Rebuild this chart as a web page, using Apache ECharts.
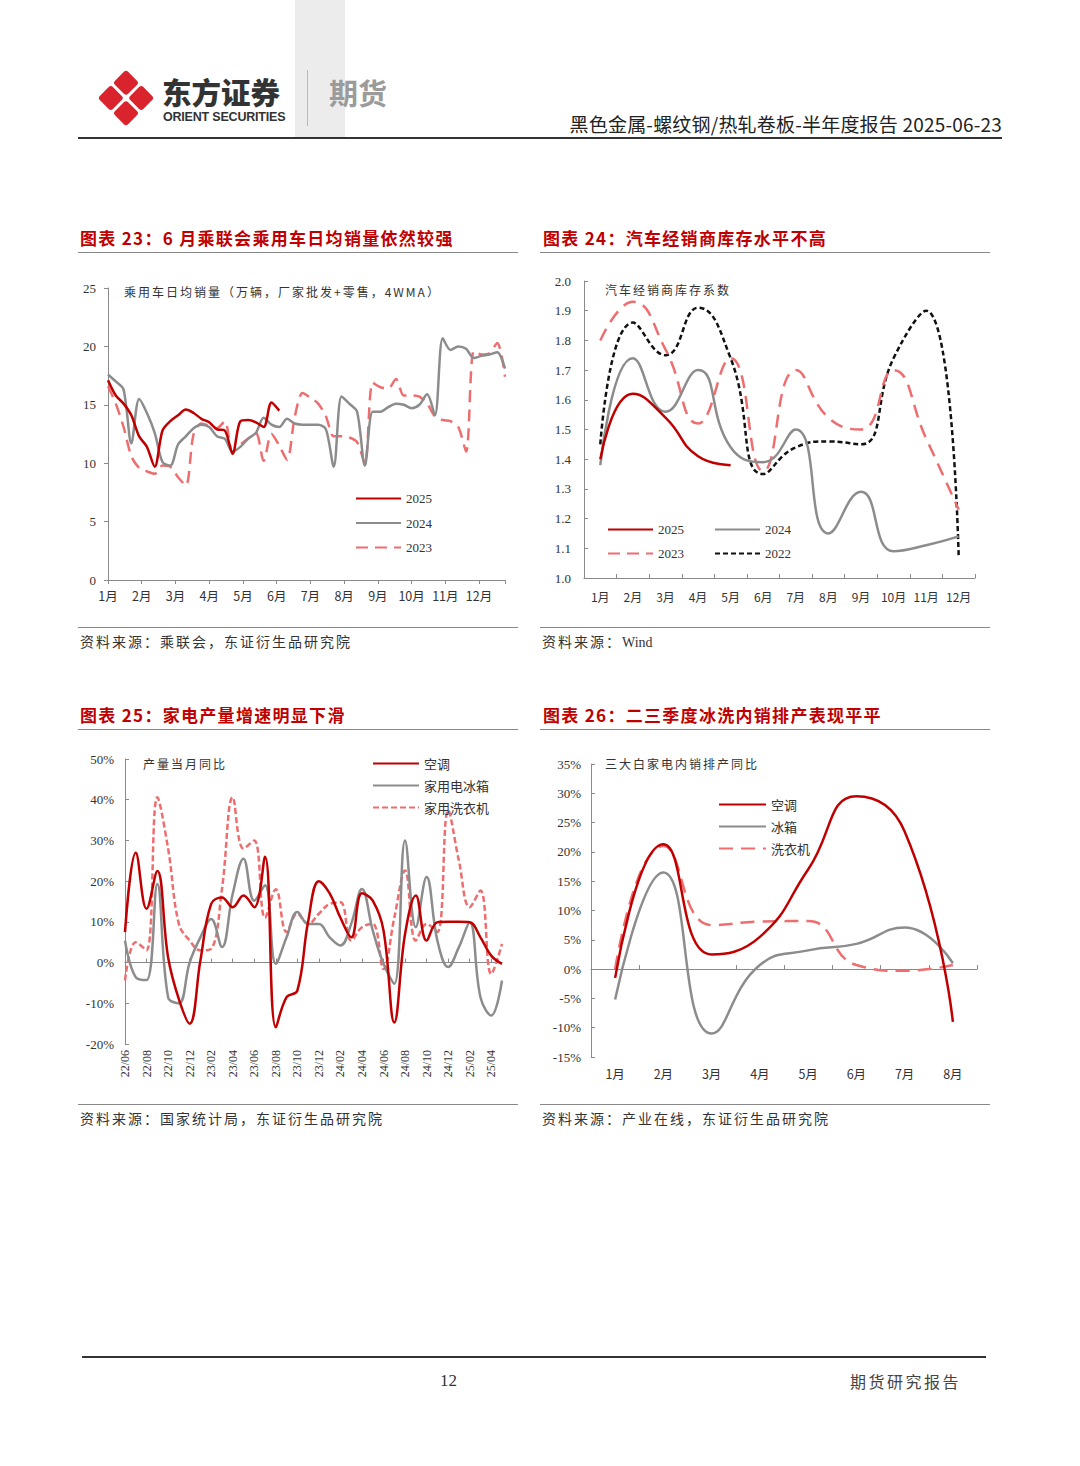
<!DOCTYPE html>
<html><head><meta charset="utf-8">
<script src="https://cdn.jsdelivr.net/npm/echarts@6/dist/echarts.min.js"></script>
<style>
html,body{margin:0;padding:0;background:#fff;}
#page{position:relative;width:1080px;height:1466px;overflow:hidden;background:#fff;font-family:"Noto Sans CJK SC","Noto Sans",sans-serif;}
#c{position:absolute;left:0;top:0;width:1080px;height:1466px;}
.t{position:absolute;white-space:nowrap;line-height:1;}
.ln{position:absolute;}
.ttl{font-size:17px;font-weight:700;color:#c00000;letter-spacing:1.3px;}
.src{font-size:14px;color:#333;letter-spacing:2px;}
.inner{font-size:12px;color:#333;letter-spacing:2px;}
</style></head><body><div id="page">
<div class="ln" style="left:295px;top:0;width:50px;height:137px;background:#ececec"></div>
<svg style="position:absolute;left:97px;top:68px" width="58" height="60" viewBox="0 0 58 60">
  <g transform="rotate(45 29 30)" fill="#d9232d">
    <rect x="9" y="10" width="18.5" height="18.5" rx="3"/>
    <rect x="30.5" y="10" width="18.5" height="18.5" rx="3"/>
    <rect x="9" y="31.5" width="18.5" height="18.5" rx="3"/>
    <rect x="30.5" y="31.5" width="18.5" height="18.5" rx="3"/>
  </g>
</svg>
<div class="t" style="left:162px;top:76px;font-size:29.5px;height:30px;line-height:30px;font-weight:900;color:#333;">东方证券</div>
<div class="t" style="left:163px;top:111px;font-size:12.5px;height:12px;line-height:12px;font-weight:700;color:#333;font-family:'Liberation Sans',Arial,sans-serif;letter-spacing:-0.2px;">ORIENT SECURITIES</div>
<div class="ln" style="left:307px;top:70px;width:1px;height:56px;background:#c9b99c"></div>
<div class="t" style="left:329px;top:78px;font-size:29px;font-weight:700;color:#9b9b9b;">期货</div>
<div class="t" style="right:78px;top:114px;font-size:19px;color:#222;letter-spacing:0.2px;">黑色金属-螺纹钢/热轧卷板-半年度报告 2025-06-23</div>
<div class="ln" style="left:78px;top:137px;width:924px;height:1.5px;background:#333"></div>

<div class="t ttl" style="left:80px;top:229px;">图表 23：6 月乘联会乘用车日均销量依然较强</div>
<div class="t ttl" style="left:543px;top:229px;">图表 24：汽车经销商库存水平不高</div>
<div class="ln" style="left:78px;top:252px;width:440px;height:1px;background:#888"></div>
<div class="ln" style="left:540px;top:252px;width:450px;height:1px;background:#888"></div>
<div class="ln" style="left:78px;top:627px;width:440px;height:1px;background:#888"></div>
<div class="ln" style="left:540px;top:627px;width:450px;height:1px;background:#888"></div>
<div class="t src" style="left:80px;top:634px;">资料来源：乘联会，东证衍生品研究院</div>
<div class="t src" style="left:542px;top:634px;">资料来源：<span style="font-family:'Liberation Serif',serif;letter-spacing:0">Wind</span></div>

<div class="t ttl" style="left:80px;top:706px;">图表 25：家电产量增速明显下滑</div>
<div class="t ttl" style="left:543px;top:706px;">图表 26：二三季度冰洗内销排产表现平平</div>
<div class="ln" style="left:78px;top:729px;width:440px;height:1px;background:#888"></div>
<div class="ln" style="left:540px;top:729px;width:450px;height:1px;background:#888"></div>
<div class="ln" style="left:78px;top:1104px;width:440px;height:1px;background:#888"></div>
<div class="ln" style="left:540px;top:1104px;width:450px;height:1px;background:#888"></div>
<div class="t src" style="left:80px;top:1111px;">资料来源：国家统计局，东证衍生品研究院</div>
<div class="t src" style="left:542px;top:1111px;">资料来源：产业在线，东证衍生品研究院</div>

<div class="ln" style="left:82px;top:1356px;width:904px;height:1.5px;background:#333"></div>
<div class="t" style="left:440px;top:1372px;font-size:17px;color:#333;font-family:'Liberation Serif',serif;">12</div>
<div class="t" style="left:850px;top:1373px;font-size:16px;color:#444;letter-spacing:2.5px;">期货研究报告</div>

<div id="c"></div>

<div class="t inner" style="left:124px;top:286px;letter-spacing:2px;">乘用车日均销量（万辆，厂家批发+零售，4WMA）</div>
<div class="t inner" style="left:605px;top:284px;">汽车经销商库存系数</div>
<div class="t inner" style="left:143px;top:758px;">产量当月同比</div>
<div class="t inner" style="left:605px;top:758px;">三大白家电内销排产同比</div>
</div>
<script>
// ---------- data ----------
const monthLabels12 = ['1月','2月','3月','4月','5月','6月','7月','8月','9月','10月','11月','12月'];
// 图表23: weekly 4WMA daily sales (万辆), week index from start of year
const sales2025 = [17.1,15.8,15.1,14.1,12.3,11.4,9.7,12.8,13.6,14.1,14.6,14.3,13.8,13.5,12.9,12.8,10.8,13.6,13.7,13.5,13.1,15.2,14.5];
const sales2024 = [17.6,17.0,16.3,11.7,15.5,14.3,12.6,10.1,9.8,11.6,12.3,13.0,13.3,13.1,12.3,12.1,11.0,11.4,12.1,12.6,13.9,13.3,13.1,13.8,13.4,13.3,13.3,13.3,12.9,9.7,15.7,15.1,14.4,9.8,14.4,14.4,14.8,15.1,15.0,14.7,15.0,15.9,14.1,20.7,19.7,20.0,19.8,19.0,19.2,19.3,19.5,18.1];
const sales2023 = [16.6,15.1,13.1,10.6,9.6,9.3,9.1,9.8,9.7,8.8,8.1,12.5,13.4,13.2,13.0,13.6,11.0,11.6,12.1,12.6,10.2,12.5,11.5,10.3,14.0,16.0,15.6,15.1,14.0,12.3,12.3,12.2,11.8,10.0,16.9,16.5,16.4,17.2,15.8,15.8,15.7,15.1,14.0,13.7,13.6,13.1,11.0,19.6,19.3,19.4,20.3,17.4];
// 图表24: dealer inventory coefficient
const inv2025 = [1.40,1.62,1.54,1.41,1.38];
const inv2024 = [1.38,1.74,1.56,1.70,1.44,1.39,1.50,1.15,1.29,1.09,1.11,1.14];
const inv2023 = [1.80,1.93,1.77,1.52,1.74,1.36,1.70,1.54,1.50,1.70,1.47,1.23];
const inv2022 = [1.45,1.86,1.75,1.91,1.74,1.35,1.44,1.46,1.45,1.74,1.90,1.07];
// 图表25: monthly production YoY (%)
const prodMonths = ['22/06','22/07','22/08','22/09','22/10','22/11','22/12','23/01','23/02','23/03','23/04','23/05','23/06','23/07','23/08','23/09','23/10','23/11','23/12','24/01','24/02','24/03','24/04','24/05','24/06','24/07','24/08','24/09','24/10','24/11','24/12','25/01','25/02','25/03','25/04','25/05'];
const prodAC = [7.5,27,13.2,22.5,1.3,-9,-15,0.5,14.4,16,13.6,16.5,13.6,26,-15.9,-8.5,-6.9,10,20,17,11,6.2,17,15.2,7.9,-14.7,7,16.5,5.4,9.9,10,10,9.9,6.2,1.7,-0.3];
const prodFridge = [5.4,-3.6,-4.3,19.3,-8.5,-10,0,6.2,10.7,3.8,16.9,25.5,15.2,19,-0.3,6.2,12.4,9.5,9.5,6.2,4.2,9.5,18.1,7.9,-0.3,-5.2,30,8.7,21,5.4,-1.1,3.8,9.9,-8.5,-13,-4.4];
const prodWasher = [-4.4,5,3,40.6,28,9.5,5.4,3,3.4,18,40.6,28,30,11,18,7.5,12,9.5,12,14.4,14.8,5.4,8.7,9.5,-1.6,11,22.6,5.4,9.5,7.5,37.4,25,13.6,17.7,-2.8,4.6];
// 图表26: domestic production schedule YoY (%)
const schMonths = ['1月','2月','3月','4月','5月','6月','7月','8月'];
const schAC = [-1.5,21.3,2.5,5.5,17,29.5,23.5,-9];
const schFridge = [-5.2,16.5,-11,0.7,3.2,4.3,7.1,1];
const schWasher = [0,21,7.5,8.1,8.2,0.7,-0.3,0.7];

// ---------- styles ----------
const RED = '#c00000', GRAY = '#8c8c8c', PINK = '#ee6e70', BLACK = '#111';
const AX = {color:'#8a8a8a', width:1};
const NUM = {fontFamily:'"Liberation Serif","Times New Roman",serif', fontSize:13, color:'#333'};
const CJK = {fontFamily:'"Noto Sans CJK SC",sans-serif', fontSize:12.5, color:'#333'};
const WPM = 52/12;
const yIdx = [0,1,2,2,3,3];

function line(name, xi, data, color, type, width, smooth){
  return {name, type:'line', xAxisIndex:xi, yAxisIndex:yIdx[xi], data, symbol:'none', smooth,
    lineStyle:{color, width, type}, itemStyle:{color}, emphasis:{disabled:true}};
}
const LEG = {itemHeight:12, padding:0, selectedMode:false, itemStyle:{opacity:0, borderWidth:0}};

const chart = echarts.init(document.getElementById('c'), null, {renderer:'svg', width:1080, height:1466});
chart.setOption({
  animation:false,
  grid:[
    {left:108, top:288, width:397, height:292},
    {left:584, top:281, width:391, height:297},
    {left:125, top:759, width:377, height:285},
    {left:591, top:764, width:386, height:293}
  ],
  xAxis:[
    {gridIndex:0, type:'value', min:0, max:51, interval:WPM,
     axisLine:{show:true, onZero:false, lineStyle:AX}, axisTick:{show:true, length:4, lineStyle:AX}, splitLine:{show:false},
     axisLabel:Object.assign({}, CJK, {fontSize:12.5, margin:9, formatter:v=>{const m=v/WPM, r=Math.round(m); return (Math.abs(m-r)<0.02 && r<12)?monthLabels12[r]:'';}})},
    {gridIndex:1, type:'category', data:monthLabels12, boundaryGap:true,
     axisLine:{show:true, onZero:false, lineStyle:AX}, axisTick:{show:true, inside:true, length:4, lineStyle:AX},
     axisLabel:Object.assign({}, CJK, {fontSize:12, margin:12, interval:0})},
    {gridIndex:2, type:'category', data:prodMonths, boundaryGap:false,
     axisLine:{show:false, onZero:false}, axisTick:{show:false},
     axisLabel:Object.assign({}, NUM, {fontSize:12, rotate:90, interval:1, margin:6})},
    {gridIndex:2, type:'category', data:prodMonths, boundaryGap:false, position:'bottom',
     axisLine:{show:true, onZero:true, lineStyle:AX}, axisTick:{show:true, inside:true, interval:1, length:4, lineStyle:AX},
     axisLabel:{show:false}},
    {gridIndex:3, type:'category', data:schMonths, boundaryGap:true,
     axisLine:{show:false, onZero:false}, axisTick:{show:false},
     axisLabel:Object.assign({}, CJK, {margin:10, interval:0})},
    {gridIndex:3, type:'category', data:schMonths, boundaryGap:true, position:'bottom',
     axisLine:{show:true, onZero:true, lineStyle:AX}, axisTick:{show:true, inside:true, length:4, lineStyle:AX},
     axisLabel:{show:false}}
  ],
  yAxis:[
    {gridIndex:0, type:'value', min:0, max:25, interval:5, axisLine:{show:true, lineStyle:AX},
     axisTick:{show:true, length:4, lineStyle:AX}, splitLine:{show:false}, axisLabel:Object.assign({}, NUM, {margin:12})},
    {gridIndex:1, type:'value', min:1, max:2, interval:0.1, axisLine:{show:true, lineStyle:AX},
     axisTick:{show:true, inside:true, length:4, lineStyle:AX}, splitLine:{show:false},
     axisLabel:Object.assign({}, NUM, {margin:13, formatter:v=>v.toFixed(1)})},
    {gridIndex:2, type:'value', min:-20, max:50, interval:10, axisLine:{show:true, lineStyle:AX},
     axisTick:{show:true, inside:true, length:4, lineStyle:AX}, splitLine:{show:false},
     axisLabel:Object.assign({}, NUM, {margin:11, formatter:v=>v+'%'})},
    {gridIndex:3, type:'value', min:-15, max:35, interval:5, axisLine:{show:true, lineStyle:AX},
     axisTick:{show:true, inside:true, length:4, lineStyle:AX}, splitLine:{show:false},
     axisLabel:Object.assign({}, NUM, {margin:10, formatter:v=>v+'%'})}
  ],
  legend:[
    Object.assign({data:['2025','2024','2023'], orient:'vertical', left:355, top:492, itemWidth:45, itemGap:11.5, textStyle:NUM}, LEG),
    Object.assign({data:['2025'], left:607, top:523, itemWidth:45, textStyle:NUM}, LEG),
    Object.assign({data:['2024'], left:714, top:523, itemWidth:45, textStyle:NUM}, LEG),
    Object.assign({data:['2023'], left:607, top:547, itemWidth:45, textStyle:NUM}, LEG),
    Object.assign({data:['2022'], left:714, top:547, itemWidth:45, textStyle:NUM}, LEG),
    Object.assign({data:['空调','家用电冰箱','家用洗衣机'], orient:'vertical', left:372, top:757, itemWidth:46, itemGap:9, textStyle:Object.assign({}, CJK, {fontSize:13})}, LEG),
    Object.assign({data:['空调','冰箱','洗衣机'], orient:'vertical', left:718, top:798, itemWidth:47, itemGap:9, textStyle:Object.assign({}, CJK, {fontSize:13})}, LEG)
  ],
  series:[
    line('2023', 0, sales2023.map((v,i)=>[i,v]), PINK, [12,7], 2.5, 0.3),
    line('2024', 0, sales2024.map((v,i)=>[i,v]), GRAY, 'solid', 2.5, 0.3),
    line('2025', 0, sales2025.map((v,i)=>[i,v]), RED, 'solid', 2.5, 0.3),
    line('2022', 1, inv2022, BLACK, [5,3], 2.5, 0.5),
    line('2023', 1, inv2023, PINK, [13,8], 2.5, 0.5),
    line('2024', 1, inv2024, GRAY, 'solid', 2.5, 0.5),
    line('2025', 1, inv2025, RED, 'solid', 2.5, 0.5),
    line('家用洗衣机', 2, prodWasher, PINK, [6,3], 2.5, 0.4),
    line('家用电冰箱', 2, prodFridge, GRAY, 'solid', 2.5, 0.4),
    line('空调', 2, prodAC, RED, 'solid', 2.5, 0.4),
    line('洗衣机', 4, schWasher, PINK, [14,8], 2.5, 0.5),
    line('冰箱', 4, schFridge, GRAY, 'solid', 2.5, 0.5),
    line('空调', 4, schAC, RED, 'solid', 2.5, 0.5)
  ]
});
</script>
</body></html>
